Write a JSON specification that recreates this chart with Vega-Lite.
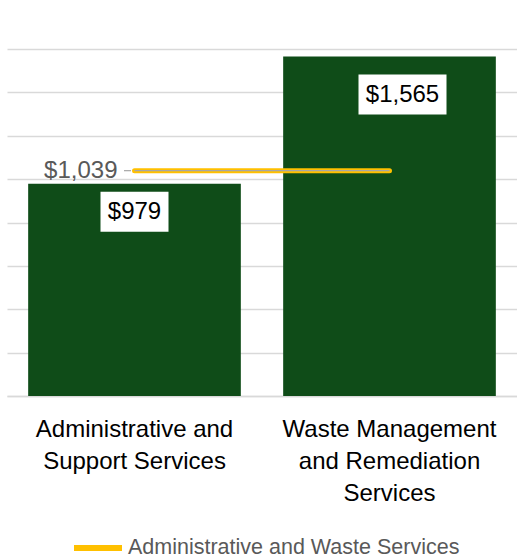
{
  "$schema": "https://vega.github.io/schema/vega-lite/v6.json",
  "autosize": "none",
  "width": 510,
  "height": 347,
  "padding": {"left": 7, "top": 49, "right": 0, "bottom": 164},
  "background": "white",
  "config": {
    "view": {"stroke": null},
    "font": "Liberation Sans",
    "axis": {"title": null}
  },
  "datasets": {
    "bars": [
      {"cat": "Administrative and Support Services", "value": 979},
      {"cat": "Waste Management and Remediation Services", "value": 1565}
    ],
    "avg": [
      {"cat": "Administrative and Support Services", "value": 1039, "series": "Administrative and Waste Services"},
      {"cat": "Waste Management and Remediation Services", "value": 1039, "series": "Administrative and Waste Services"}
    ]
  },
  "encoding": {
    "x": {
      "field": "cat", "type": "nominal", "sort": null,
      "scale": {"paddingInner": 0.166, "paddingOuter": 0.083},
      "axis": {
        "labelAngle": 0, "ticks": false, "domainColor": "#D9D9D9", "domainWidth": 1.5,
        "labelFontSize": 24, "labelColor": "#000000", "labelLineHeight": 32, "labelLimit": 0,
        "labelPadding": 21, "labelBaseline": "top",
        "labelExpr": "datum.label == 'Administrative and Support Services' ? ['Administrative and', 'Support Services'] : ['Waste Management', 'and Remediation', 'Services']"
      }
    },
    "y": {
      "field": "value", "type": "quantitative",
      "scale": {"domain": [0, 1600], "nice": false},
      "axis": {"values": [0, 200, 400, 600, 800, 1000, 1200, 1400, 1600], "labels": false, "ticks": false, "domain": false, "gridColor": "#D9D9D9", "gridWidth": 1.5}
    }
  },
  "layer": [
    {
      "data": {"name": "bars"},
      "mark": {"type": "bar", "color": "#0F4C18"}
    },
    {
      "data": {"name": "avg"},
      "mark": {"type": "line", "strokeWidth": 5, "strokeCap": "round"},
      "encoding": {
        "color": {
          "field": "series", "type": "nominal",
          "scale": {"range": ["#FFC000"]},
          "legend": {
            "title": null, "orient": "none", "legendX": 64, "legendY": 472,
            "symbolType": "stroke", "symbolSize": 2304, "symbolStrokeWidth": 6,
            "labelFontSize": 21.5, "labelColor": "#595959", "labelOffset": 3, "labelLimit": 0, "padding": 0
          }
        }
      }
    },
    {
      "data": {"name": "avg"},
      "mark": {"type": "line", "strokeWidth": 1.2, "color": "#A6A6A6"}
    },
    {
      "data": {"name": "avg"},
      "transform": [{"filter": "datum.cat == 'Administrative and Support Services'"}],
      "mark": {"type": "text", "align": "right", "baseline": "middle", "dx": -17, "fontSize": 24, "color": "#595959"},
      "encoding": {"text": {"field": "value", "type": "quantitative", "format": "$,.0f"}}
    },
    {
      "data": {"name": "avg"},
      "transform": [{"filter": "datum.cat == 'Administrative and Support Services'"}],
      "mark": {"type": "point", "shape": "M-1,0L1,0", "size": 49, "filled": false, "stroke": "#A6A6A6", "strokeWidth": 1.2, "xOffset": -7, "opacity": 1}
    },
    {
      "data": {"name": "bars"},
      "transform": [{"filter": "datum.cat == 'Administrative and Support Services'"}],
      "mark": {"type": "point", "shape": "M-1.7,-1L1.7,-1L1.7,1L-1.7,1Z", "size": 1600, "filled": true, "fill": "white", "strokeWidth": 0, "opacity": 1, "yOffset": 28}
    },
    {
      "data": {"name": "bars"},
      "transform": [{"filter": "datum.cat == 'Administrative and Support Services'"}],
      "mark": {"type": "text", "baseline": "middle", "dy": 28, "fontSize": 24, "color": "#000000"},
      "encoding": {"text": {"field": "value", "type": "quantitative", "format": "$,.0f"}}
    },
    {
      "data": {"name": "bars"},
      "transform": [{"filter": "datum.cat == 'Waste Management and Remediation Services'"}],
      "mark": {"type": "point", "shape": "M-2.2,-1L2.2,-1L2.2,1L-2.2,1Z", "size": 1600, "filled": true, "fill": "white", "strokeWidth": 0, "opacity": 1, "yOffset": 38, "xOffset": 13}
    },
    {
      "data": {"name": "bars"},
      "transform": [{"filter": "datum.cat == 'Waste Management and Remediation Services'"}],
      "mark": {"type": "text", "baseline": "middle", "dy": 38, "dx": 13, "fontSize": 24, "color": "#000000"},
      "encoding": {"text": {"field": "value", "type": "quantitative", "format": "$,.0f"}}
    }
  ]
}
